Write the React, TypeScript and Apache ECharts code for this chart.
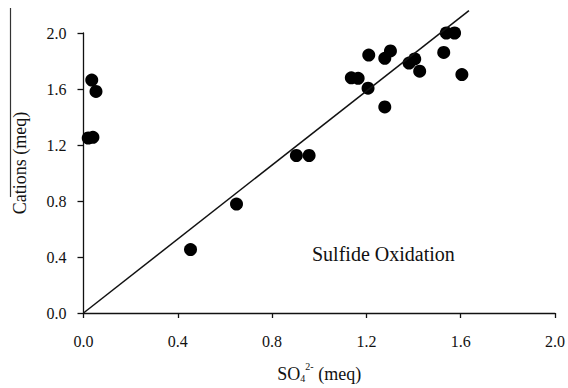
import React, { useEffect, useRef } from "react";
import * as echarts from "echarts";

const xTicks = [0, 0.4, 0.8, 1.2, 1.6, 2.0];
const yTicks = [0, 0.4, 0.8, 1.2, 1.6, 2.0];

const so4 = [
  0.02, 0.04, 0.035, 0.053, 0.454, 0.649, 0.903, 0.957,
  1.136, 1.165, 1.207, 1.21, 1.278, 1.302, 1.278, 1.381, 1.405, 1.426,
  1.528, 1.539, 1.574, 1.605,
];
const cations = [
  1.25, 1.255, 1.664, 1.583, 0.453, 0.778, 1.125, 1.125,
  1.68, 1.676, 1.606, 1.842, 1.819, 1.872, 1.472, 1.785, 1.815, 1.727,
  1.861, 2.0, 2.0, 1.703,
];

const lineX = [0, 1.635];
const lineY = [0, 2.16];

const annotation = "Sulfide Oxidation";
const FONT = "'Liberation Serif', 'Times New Roman', serif";

export default function App() {
  const ref = useRef<HTMLDivElement>(null);
  useEffect(() => {
    if (!ref.current) return;
    const chart = echarts.init(ref.current, undefined, { renderer: "svg" });
    const pts = so4.map((x, i) => [x, cations[i]]);
    const line = lineX.map((x, i) => [x, lineY[i]]);
    chart.setOption({
      animation: false,
      backgroundColor: "#fff",
      textStyle: { fontFamily: FONT },
      grid: { left: 83.5, right: 12.7, top: 33, bottom: 66.7 },
      xAxis: {
        type: "value",
        min: xTicks[0],
        max: xTicks[xTicks.length - 1],
        interval: 0.4,
        name: "{a|SO}{b|4}{c|2-}{a| (meq)}",
        nameLocation: "middle",
        nameGap: 48,
        nameTextStyle: {
          rich: {
            a: { fontSize: 18, fontFamily: FONT, color: "#111", verticalAlign: "bottom", lineHeight: 22 },
            b: { fontSize: 10, fontFamily: FONT, color: "#111", verticalAlign: "bottom", lineHeight: 18 },
            c: { fontSize: 10, fontFamily: FONT, color: "#111", verticalAlign: "top", lineHeight: 22 },
          },
        },
        axisLine: { show: true, lineStyle: { color: "#111", width: 1.3 } },
        axisTick: { show: true, inside: false, length: 5, lineStyle: { color: "#111", width: 1.3 } },
        axisLabel: {
          margin: 20,
          fontSize: 16,
          fontFamily: FONT,
          color: "#111",
          formatter: (v: number) => v.toFixed(1),
        },
        splitLine: { show: false },
      },
      yAxis: {
        type: "value",
        min: yTicks[0],
        max: yTicks[yTicks.length - 1],
        interval: 0.4,
        name: "Cations (meq)",
        nameLocation: "middle",
        nameGap: 55,
        nameTextStyle: { fontSize: 18, fontFamily: FONT, color: "#111", padding: [0, 0, 0, 20] },
        axisLine: { show: true, lineStyle: { color: "#111", width: 1.3 } },
        axisTick: { show: true, inside: false, length: 6, lineStyle: { color: "#111", width: 1.3 } },
        axisLabel: {
          margin: 17,
          fontSize: 16,
          fontFamily: FONT,
          color: "#111",
          formatter: (v: number) => v.toFixed(1),
        },
        splitLine: { show: false },
      },
      graphic: [
        {
          type: "text",
          x: 312,
          y: 254,
          style: {
            text: annotation,
            fontSize: 20,
            fontFamily: FONT,
            fill: "#111",
            textVerticalAlign: "middle",
          },
        },
        {
          type: "line",
          shape: { x1: 10.5, y1: 8, x2: 10.5, y2: 197 },
          style: { stroke: "#333", lineWidth: 1.2 },
        },
      ],
      series: [
        {
          type: "line",
          data: line,
          clip: false,
          symbol: "none",
          lineStyle: { color: "#111", width: 1.5 },
        },
        {
          type: "scatter",
          data: pts,
          clip: false,
          symbol: "circle",
          symbolSize: 13,
          itemStyle: { color: "#000", opacity: 1 },
        },
      ],
    });
    return () => chart.dispose();
  }, []);
  return <div ref={ref} style={{ width: 568, height: 388, position: "absolute", left: 0, top: 0 }} />;
}
